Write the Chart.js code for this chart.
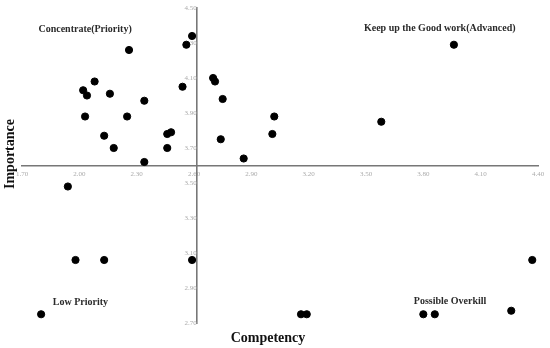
<!DOCTYPE html>
<html>
<head>
<meta charset="utf-8">
<script src="https://cdn.jsdelivr.net/npm/chart.js@4/dist/chart.umd.min.js"></script>
<style>
    html, body { margin: 0; padding: 0; background: #fff; }
    #wrap { width: 550px; height: 348px; }
</style>
</head>
<body>
<div id="wrap"><canvas id="ipaChart"></canvas></div>
<script>
// Importance-performance points
const competency = [2.26, 2.59, 2.56, 2.08, 2.02, 2.04, 2.16, 2.34, 2.54, 2.03, 2.25, 2.13, 2.18,
    2.34, 2.46, 2.48, 2.46, 2.70, 2.71, 2.75, 2.74, 2.86, 3.02, 3.01, 3.96, 3.58,
    1.94, 1.98, 2.13, 2.59, 1.80, 3.16, 3.19, 3.80, 3.86, 4.26, 4.37];
const importance = [4.26, 4.34, 4.29, 4.08, 4.03, 4.00, 4.01, 3.97, 4.05, 3.88, 3.88, 3.77, 3.70,
    3.62, 3.70, 3.79, 3.78, 4.10, 4.08, 3.98, 3.75, 3.64, 3.88, 3.78, 4.29, 3.85,
    3.48, 3.06, 3.06, 3.06, 2.75, 2.75, 2.75, 2.75, 2.75, 2.77, 3.06];

const xTicks = [1.70, 2.00, 2.30, 2.60, 2.90, 3.20, 3.50, 3.80, 4.10, 4.40];
const yTicks = [2.70, 2.90, 3.10, 3.30, 3.50, 3.70, 3.90, 4.10, 4.30, 4.50];

// axes cross at these means
const meanCompetency = 2.615;
const meanImportance = 3.60;

const quadrants = [
    { text: 'Concentrate(Priority)', x: 2.03, y: 4.38 },
    { text: 'Keep up the Good work(Advanced)', x: 3.886, y: 4.385 },
    { text: 'Low Priority', x: 2.006, y: 2.82 },
    { text: 'Possible Overkill', x: 3.94, y: 2.823 }
];

const serif = '"Liberation Serif", "DejaVu Serif", serif';

const labelsPlugin = {
    id: 'ipaLabels',
    afterDraw(chart) {
        const ctx = chart.ctx;
        const xs = chart.scales.x, ys = chart.scales.y;
        ctx.save();
        ctx.fillStyle = '#2b2b2b';
        ctx.textAlign = 'center';
        ctx.textBaseline = 'middle';
        ctx.font = 'bold 10px ' + serif;
        quadrants.forEach(q => {
            ctx.fillText(q.text, xs.getPixelForValue(q.x), ys.getPixelForValue(q.y));
        });

        // axis titles
        ctx.fillStyle = '#111';
        ctx.font = 'bold 14px ' + serif;
        ctx.fillText('Competency', 268, 338);
        ctx.translate(10, 154);
        ctx.rotate(-Math.PI / 2);
        ctx.fillText('Importance', 0, 0);
        ctx.restore();
    }
};

// the crossing axes should not push the plot area around
function noPadding(scale) {
    scale.paddingTop = 0;
    scale.paddingBottom = 0;
    scale.paddingLeft = 0;
    scale.paddingRight = 0;
}

new Chart(document.getElementById('ipaChart'), {
    type: 'scatter',
    data: {
        datasets: [{
            data: competency.map((c, i) => ({ x: c, y: importance[i] })),
            backgroundColor: '#000',
            borderColor: '#000',
            pointRadius: 3.6,
            pointHoverRadius: 3.6
        }]
    },
    options: {
        responsive: true,
        maintainAspectRatio: false,
        animation: false,
        layout: { padding: { left: 22, right: 12, top: 8, bottom: 25 } },
        plugins: { legend: { display: false }, tooltip: { enabled: false } },
        scales: {
            x: {
                type: 'linear',
                min: xTicks[0],
                max: xTicks[xTicks.length - 1],
                position: { y: meanImportance },
                afterBuildTicks: s => { s.ticks = xTicks.map(v => ({ value: v })); },
                afterFit: noPadding,
                grid: { display: false, drawTicks: false },
                border: { display: true, color: '#777', width: 1.6 },
                ticks: {
                    padding: 4,
                    color: '#ababab',
                    font: { family: serif, size: 7 },
                    callback: v => v.toFixed(2)
                }
            },
            y: {
                type: 'linear',
                min: yTicks[0],
                max: yTicks[yTicks.length - 1],
                position: { x: meanCompetency },
                afterBuildTicks: s => { s.ticks = yTicks.map(v => ({ value: v })); },
                afterFit: noPadding,
                grid: { display: false, drawTicks: false },
                border: { display: true, color: '#777', width: 1.6 },
                ticks: {
                    padding: 8,
                    color: '#ababab',
                    font: { family: serif, size: 7 },
                    callback: v => v.toFixed(2)
                }
            }
        }
    },
    plugins: [labelsPlugin]
});
</script>
</body>
</html>
